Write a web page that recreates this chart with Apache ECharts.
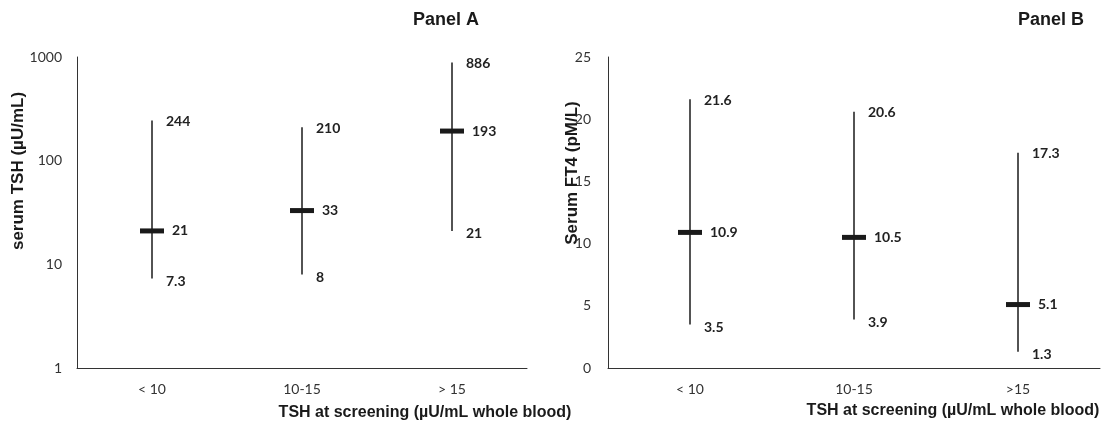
<!DOCTYPE html>
<html>
<head>
<meta charset="utf-8">
<script src="https://cdn.jsdelivr.net/npm/echarts@6/dist/echarts.min.js"></script>
<style>
  html, body { margin: 0; padding: 0; background: #fff; }
  #chart { width: 1108px; height: 422px; }
</style>
</head>
<body>
<div id="chart"></div>
<script>
// panel A: serum TSH (log scale)
const catsA = ['< 10', '10-15', '> 15']
const lowA = [7.3, 8, 21]
const medA = [21, 33, 193]
const highA = [244, 210, 886]

// panel B: serum FT4
const catsB = ['< 10', '10-15', '>15']
const lowB = [3.5, 3.9, 1.3]
const medB = [10.9, 10.5, 5.1]
const highB = [21.6, 20.6, 17.3]

const ink = '#1a1a1a'
const numFont = 'Lato, "Open Sans", sans-serif'
const boldFont = '"Liberation Sans", Arial, sans-serif'

function rows(low, med, high) {
  return low.map((v, i) => [i, v, med[i], high[i]])
}

// whisker from low to high, thick bar at median, value labels on the right
function renderRange(params, api) {
  const i = api.value(0)
  const low = api.value(1)
  const med = api.value(2)
  const high = api.value(3)
  const top = api.coord([i, high])
  const bot = api.coord([i, low])
  const mid = api.coord([i, med])
  const txt = (s, x, y) => ({
    type: 'text',
    style: { text: String(s), x: x, y: y, fill: '#222', fontSize: 14, fontWeight: 'bold', fontFamily: numFont, verticalAlign: 'middle' }
  })
  return {
    type: 'group',
    children: [
      { type: 'line', shape: { x1: top[0], y1: top[1], x2: bot[0], y2: bot[1] }, style: { stroke: ink, lineWidth: 1.5 } },
      { type: 'rect', shape: { x: mid[0] - 12, y: mid[1] - 2.5, width: 24, height: 5 }, style: { fill: ink } },
      txt(high, top[0] + 14, top[1] + 1),
      txt(med, mid[0] + 20, mid[1]),
      txt(low, bot[0] + 14, bot[1] + 3)
    ]
  }
}

const axisLine = { show: true, lineStyle: { color: '#333', width: 1 } }
const tickLabel = { color: '#333', fontSize: 14, fontFamily: numFont }

const option = {
  animation: false,
  backgroundColor: '#fff',
  grid: [
    { left: 77, right: 581, top: 57, bottom: 54 },
    { left: 608, right: 8, top: 57, bottom: 54 }
  ],
  xAxis: [
    { type: 'category', gridIndex: 0, data: catsA, axisLine: axisLine, axisTick: { show: false }, axisLabel: Object.assign({ margin: 14 }, tickLabel) },
    { type: 'category', gridIndex: 1, data: catsB, axisLine: axisLine, axisTick: { show: false }, axisLabel: Object.assign({ margin: 14 }, tickLabel) }
  ],
  yAxis: [
    { type: 'log', gridIndex: 0, logBase: 10, min: 1, max: 1000, axisLine: axisLine, axisTick: { show: false }, splitLine: { show: false },
      axisLabel: Object.assign({ margin: 15, formatter: (v) => String(v) }, tickLabel) },
    { type: 'value', gridIndex: 1, min: 0, max: 25, interval: 5, axisLine: axisLine, axisTick: { show: false }, splitLine: { show: false },
      axisLabel: Object.assign({ margin: 17 }, tickLabel) }
  ],
  graphic: [
    { type: 'text', x: 446, y: 20, style: { text: 'Panel A', font: 'bold 18px ' + boldFont, fill: ink, align: 'center', verticalAlign: 'middle' } },
    { type: 'text', x: 1051, y: 20, style: { text: 'Panel B', font: 'bold 18px ' + boldFont, fill: ink, align: 'center', verticalAlign: 'middle' } },
    { type: 'text', x: 425, y: 413, style: { text: 'TSH at screening (µU/mL whole blood)', font: 'bold 16px ' + boldFont, fill: ink, align: 'center', verticalAlign: 'middle' } },
    { type: 'text', x: 953, y: 411, style: { text: 'TSH at screening (µU/mL whole blood)', font: 'bold 16px ' + boldFont, fill: ink, align: 'center', verticalAlign: 'middle' } },
    { type: 'text', x: 18, y: 171, rotation: Math.PI / 2, style: { text: 'serum TSH (µU/mL)', font: 'bold 17px ' + boldFont, fill: ink, align: 'center', verticalAlign: 'middle' } },
    { type: 'text', x: 572, y: 173, rotation: Math.PI / 2, style: { text: 'Serum FT4 (pM/L)', font: 'bold 17px ' + boldFont, fill: ink, align: 'center', verticalAlign: 'middle' } }
  ],
  series: [
    { type: 'custom', xAxisIndex: 0, yAxisIndex: 0, renderItem: renderRange, data: rows(lowA, medA, highA), encode: { x: 0, y: [1, 2, 3] } },
    { type: 'custom', xAxisIndex: 1, yAxisIndex: 1, renderItem: renderRange, data: rows(lowB, medB, highB), encode: { x: 0, y: [1, 2, 3] } }
  ]
}

const chart = echarts.init(document.getElementById('chart'))
chart.setOption(option)
</script>
</body>
</html>
